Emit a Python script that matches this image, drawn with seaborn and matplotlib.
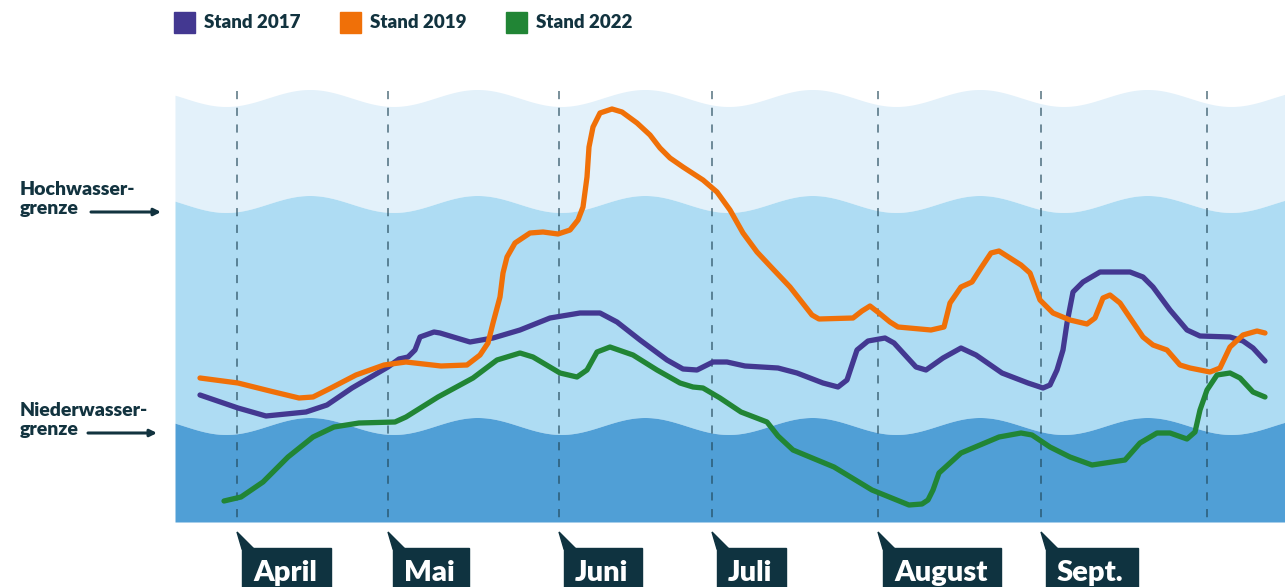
import numpy as np
import pandas as pd
import seaborn as sns
import matplotlib.pyplot as plt
from matplotlib.patches import Rectangle, Polygon

# Pegelverläufe (x: Position entlang der Zeitachse, y: Bildhöhe, oben = hoch)
x_2017 = [200, 238, 266, 306, 327, 352, 388, 399, 408, 415, 420, 434, 440, 470, 493, 520, 550, 580,
          600, 617, 640, 667, 683, 697, 713, 727, 745, 778, 797, 823, 838, 847, 857, 868, 885, 894,
          905, 916, 926, 943, 961, 976, 1002, 1028, 1043, 1050, 1057, 1063, 1067, 1073, 1083,
          1100, 1130, 1143, 1153, 1170, 1187, 1200, 1230, 1243, 1253, 1265]
y_2017 = [395, 408, 416, 412, 405, 388, 367, 359, 357, 350, 337, 332, 333, 342, 338, 330, 318, 313,
          313, 322, 340, 360, 369, 370, 362, 362, 366, 368, 373, 383, 387, 380, 350, 341, 338, 343,
          355, 367, 370, 358, 348, 355, 373, 383, 388, 385, 370, 350, 323, 292, 282,
          272, 272, 277, 287, 310, 330, 336, 337, 341, 348, 361]

x_2019 = [200, 238, 270, 299, 313, 331, 356, 384, 406, 441, 467, 480, 488, 493, 500, 503, 507, 515,
          530, 543, 558, 570, 578, 583, 587, 589, 593, 600, 612, 622, 637, 650, 660, 670, 683, 703,
          717, 730, 743, 757, 772, 790, 812, 819, 853, 862, 870, 879, 890, 898, 931, 944, 950,
          961, 972, 981, 991, 999, 1021, 1030, 1040, 1053, 1070, 1087, 1095, 1103, 1110, 1120,
          1143, 1153, 1167, 1180, 1190, 1210, 1220, 1230, 1243, 1257, 1265]
y_2019 = [378, 383, 391, 398, 397, 388, 375, 365, 362, 366, 365, 355, 343, 323, 297, 273, 257, 243,
          233, 232, 234, 230, 220, 207, 177, 147, 127, 113, 109, 112, 123, 135, 148, 158, 167, 180,
          192, 210, 233, 252, 268, 287, 315, 319, 318, 311, 306, 313, 322, 327, 330, 327, 303,
          287, 282, 268, 253, 251, 265, 273, 300, 313, 320, 324, 318, 298, 295, 303,
          337, 345, 350, 365, 368, 372, 368, 347, 335, 331, 333]

x_2022 = [224, 241, 263, 288, 313, 334, 359, 395, 406, 438, 473, 497, 520, 533, 560, 577, 587, 597,
          610, 633, 657, 680, 693, 703, 720, 741, 767, 778, 793, 834, 872, 909, 922, 928, 933, 939,
          961, 999, 1021, 1032, 1050, 1070, 1092, 1125, 1140, 1157, 1170, 1187, 1195, 1200, 1207,
          1217, 1230, 1240, 1253, 1265]
y_2022 = [501, 497, 482, 457, 437, 427, 423, 422, 417, 397, 378, 360, 353, 357, 373, 377, 370, 352,
          347, 355, 370, 383, 387, 388, 398, 412, 422, 436, 450, 467, 490, 505, 504, 500, 490, 473,
          453, 437, 433, 435, 447, 457, 465, 460, 443, 433, 433, 439, 432, 410, 390,
          375, 373, 378, 392, 397]

stands = ["Stand 2017", "Stand 2019", "Stand 2022"]
colors = ["#433891", "#f07008", "#218535"]

months = ["April", "Mai", "Juni", "Juli", "August", "Sept."]
month_x = [237, 388, 559, 712, 878, 1041]
last_line_x = 1207

df = pd.concat([
    pd.DataFrame({"x": x_2017, "y": y_2017, "Stand": stands[0]}),
    pd.DataFrame({"x": x_2019, "y": y_2019, "Stand": stands[1]}),
    pd.DataFrame({"x": x_2022, "y": y_2022, "Stand": stands[2]}),
])

dark = "#12333f"
plt.rcParams["font.family"] = ["Lato", "DejaVu Sans"]

fig = plt.figure(figsize=(12.85, 5.87), dpi=100)
ax = fig.add_axes([0, 0, 1, 1])

# Wellen-Hintergrund
wx = np.linspace(175, 1285, 1200)
def wave(center):
    return center + 8.5 * np.cos(2 * np.pi * (wx - 226) / 167.5)

top_w, mid_w, low_w = wave(98), wave(204), wave(426)
ax.fill_between(wx, top_w, mid_w, color="#e3f1fa", lw=0, zorder=0)
ax.fill_between(wx, mid_w, low_w, color="#aedcf3", lw=0, zorder=0)
ax.fill_between(wx, low_w, 522, color="#509fd6", lw=0, zorder=0)

# Monatslinien
for xv in month_x + [last_line_x]:
    ax.plot([xv, xv], [91, 522], color="#1f4556", alpha=0.6, lw=1.4,
            ls=(0, (4.2, 4.4)), zorder=1)

sns.lineplot(data=df, x="x", y="y", hue="Stand", palette=colors, sort=False,
             estimator=None, lw=3.8, legend=False, ax=ax, zorder=3,
             solid_capstyle="round", solid_joinstyle="round")
ax.set_xlim(0, 1285)
ax.set_ylim(587, 0)
ax.axis("off")

# Legende
for i, (name, col) in enumerate(zip(stands, colors)):
    lx = 174 + i * 166
    ax.add_patch(Rectangle((lx, 12), 21, 21, color=col, zorder=4))
    ax.text(lx + 30, 23, name, fontsize=13.5, fontweight="heavy", color=dark,
            va="center", ha="left")

# Grenzen links
for label, base, ay, ax0, ax1 in [("Hochwasser-\ngrenze", 214, 212, 91, 161),
                                  ("Niederwasser-\ngrenze", 435, 433, 88, 157)]:
    ax.text(20, base, label, fontsize=14, fontweight="heavy", color=dark,
            va="baseline", ha="left", linespacing=1.15)
    ax.annotate("", xy=(ax1, ay), xytext=(ax0, ay),
                arrowprops=dict(arrowstyle="-|>", color=dark, lw=2.2,
                                mutation_scale=10, shrinkA=0, shrinkB=0))

# Monatsschilder
fig.canvas.draw()
renderer = fig.canvas.get_renderer()
for name, xv in zip(months, month_x):
    t = ax.text(xv + 16, 581, name, fontsize=21, fontweight="heavy", color="white",
                va="baseline", ha="left", zorder=6)
    bb = t.get_window_extent(renderer).transformed(ax.transData.inverted())
    ax.add_patch(Rectangle((xv + 5, 548), bb.x1 + 14 - (xv + 5), 50, color="#0f3340",
                           zorder=5, clip_on=False))
    ax.add_patch(Polygon([(xv, 532), (xv + 5, 549), (xv + 17, 549)], closed=True,
                         color="#0f3340", zorder=5))

plt.savefig("out.png", dpi=100)
